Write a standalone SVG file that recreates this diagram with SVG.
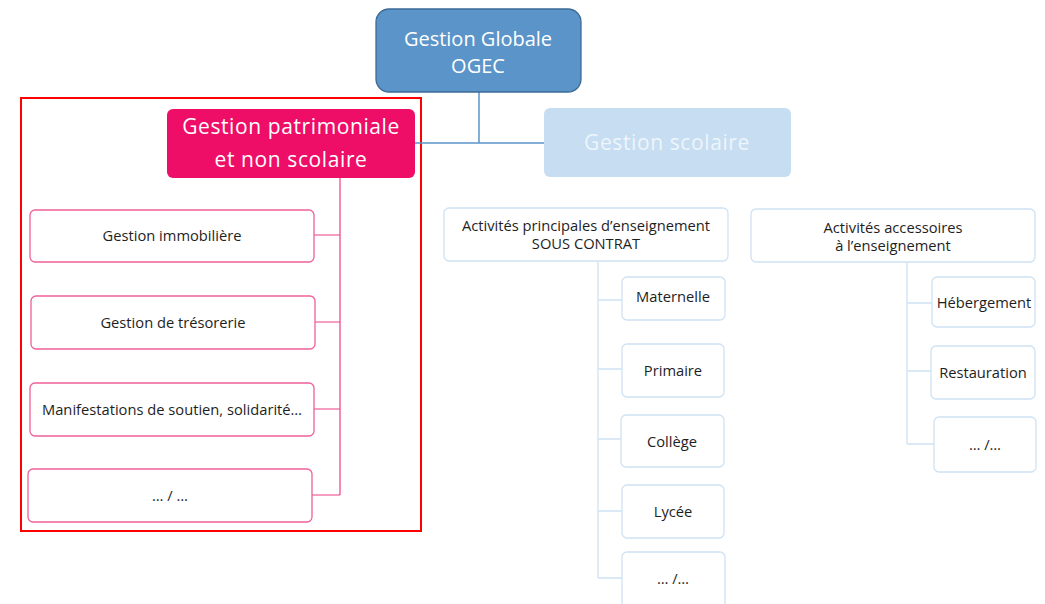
<svg xmlns="http://www.w3.org/2000/svg" width="1045" height="604" viewBox="0 0 1045 604">
<style>
text{font-family:"Open Sans","Noto Sans",sans-serif;text-anchor:middle;dominant-baseline:central}
.big{font-size:20px;fill:#ffffff}
.big2{font-size:21px;letter-spacing:0.6px;fill:#ffffff}
.sm{font-size:14.7px;fill:#1e1e1e}
.pk{fill:#ffffff;stroke:#f0609a;stroke-width:1.3}
.bl{fill:#ffffff;stroke:#cfe2f3;stroke-width:1.3}
.cp{fill:none;stroke:#ee3d85;stroke-width:1.2}
.cb{fill:none;stroke:#cfe2f3;stroke-width:1.3}
</style>
<rect width="1045" height="604" fill="#ffffff"/>
<rect x="21" y="98" width="400" height="433" fill="none" stroke="#ff0000" stroke-width="2"/>
<g id="connectors">
<path d="M479 92V143M415 143H545" fill="none" stroke="#5b94c8" stroke-width="1.5"/>
<path class="cp" d="M340 178V495M314 235H340M315 322H340M314 409H340M312 495H340"/>
<path class="cb" d="M598 261V578M598 300H622M598 369H622M598 439H621M598 511H622M598 578H622"/>
<path class="cb" d="M907 262V444M907 303H932M907 371H931M907 444H934"/>
</g>
<g id="n-ogec"><rect x="376" y="9" width="205" height="83" rx="13" fill="#5b94c8" stroke="#3d6a96" stroke-width="1.3"/><text class="big" x="478" y="38">Gestion Globale</text><text class="big" x="478" y="65">OGEC</text></g>
<g id="n-patri"><rect x="167" y="109" width="248" height="69" rx="6" fill="#ee0e67"/><text class="big2" x="291" y="126">Gestion patrimoniale</text><text class="big2" x="291" y="159">et non scolaire</text></g>
<g id="n-scol"><rect x="544" y="108" width="247" height="69" rx="6" fill="#c7ddf1"/><text class="big2" x="667" y="142" style="fill:#eef5fb">Gestion scolaire</text></g>
<g id="n-immo"><rect class="pk" x="30" y="210" width="284" height="52" rx="5"/><text class="sm" x="172" y="235">Gestion immobilière</text></g>
<g id="n-treso"><rect class="pk" x="31" y="296" width="284" height="53" rx="5"/><text class="sm" x="173" y="322">Gestion de trésorerie</text></g>
<g id="n-manif"><rect class="pk" x="30" y="383" width="284" height="53" rx="5"/><text class="sm" x="172" y="409">Manifestations de soutien, solidarité…</text></g>
<g id="n-etc1"><rect class="pk" x="28" y="469" width="284" height="53" rx="5"/><text class="sm" x="170" y="495">… / …</text></g>
<g id="n-princ"><rect class="bl" x="444" y="208" width="284" height="53" rx="5"/><text class="sm" x="586" y="225">Activités principales d’enseignement</text><text class="sm" x="586" y="243">SOUS CONTRAT</text></g>
<g id="n-mat"><rect class="bl" x="622" y="277" width="103" height="43" rx="5"/><text class="sm" x="673" y="296">Maternelle</text></g>
<g id="n-prim"><rect class="bl" x="622" y="344" width="102" height="53" rx="5"/><text class="sm" x="673" y="370">Primaire</text></g>
<g id="n-coll"><rect class="bl" x="621" y="415" width="103" height="52" rx="5"/><text class="sm" x="672" y="441">Collège</text></g>
<g id="n-lyc"><rect class="bl" x="622" y="485" width="102" height="53" rx="5"/><text class="sm" x="673" y="511">Lycée</text></g>
<g id="n-etc2"><rect class="bl" x="622" y="552" width="103" height="55" rx="5"/><text class="sm" x="673" y="578">… /…</text></g>
<g id="n-acc"><rect class="bl" x="751" y="209" width="284" height="53" rx="5"/><text class="sm" x="893" y="227">Activités accessoires</text><text class="sm" x="893" y="245">à l’enseignement</text></g>
<g id="n-heb"><rect class="bl" x="932" y="277" width="103" height="50" rx="5"/><text class="sm" x="984" y="302">Hébergement</text></g>
<g id="n-rest"><rect class="bl" x="931" y="346" width="104" height="53" rx="5"/><text class="sm" x="983" y="372">Restauration</text></g>
<g id="n-etc3"><rect class="bl" x="934" y="417" width="102" height="55" rx="5"/><text class="sm" x="985" y="444">… /…</text></g>
</svg>
